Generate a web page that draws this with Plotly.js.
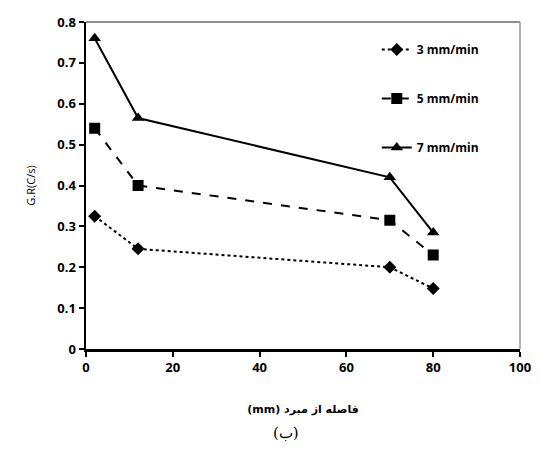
<!DOCTYPE html>
<html><head><meta charset="utf-8">
<script src="https://cdn.plot.ly/plotly-3.0.1.min.js"></script>
<style>html,body{margin:0;padding:0;background:#fff}#chart{width:538px;height:457px}</style>
</head><body><div id="chart"></div>
<script>
const distance = [2, 12, 70, 80];
const rate3 = [0.325, 0.245, 0.20, 0.148];
const rate5 = [0.54, 0.40, 0.315, 0.23];
const rate7 = [0.76, 0.565, 0.42, 0.285];
const seriesNames = ['3 mm/min', '5 mm/min', '7 mm/min'];
const xTicks = [0, 20, 40, 60, 80, 100];
const yTicks = [0, 0.1, 0.2, 0.3, 0.4, 0.5, 0.6, 0.7, 0.8];

const traces = [
  {x: distance, y: rate3, name: seriesNames[0], mode: 'lines+markers', legendgroup: 'a',
   line: {color: '#000', width: 2, dash: 'dot'}, marker: {symbol: 'diamond', size: 10, color: '#000'}},
  {x: distance, y: rate5, name: seriesNames[1], mode: 'lines+markers', legendgroup: 'b',
   line: {color: '#000', width: 2, dash: 'dash'}, marker: {symbol: 'square', size: 11, color: '#000'}},
  {x: distance, y: rate7, name: seriesNames[2], mode: 'lines+markers', legendgroup: 'c',
   line: {color: '#000', width: 2, dash: 'solid'}, marker: {symbol: 'triangle-up', size: 11, color: '#000'}}
];

const tickFont = {family: 'Open Sans, Liberation Sans, sans-serif', size: 13, color: '#000', weight: 'bold'};

const layout = {
  width: 538, height: 457,
  margin: {l: 86, r: 18, t: 22, b: 108},
  paper_bgcolor: '#fff', plot_bgcolor: '#fff',
  showlegend: true,
  legend: {x: 0.67, y: 0.96, xanchor: 'left', yanchor: 'top', bgcolor: 'rgba(0,0,0,0)',
           font: {family: 'Open Sans, Liberation Sans, sans-serif', size: 12, color: '#000', weight: 'bold'},
           tracegroupgap: 30, itemwidth: 30},
  xaxis: {range: [0, 100], tickvals: xTicks, ticktext: xTicks.map(String), showgrid: false, zeroline: false,
          showline: true, linecolor: '#000', linewidth: 2.5, ticks: 'outside', ticklen: 5, tickwidth: 2, tickcolor: '#000',
          tickfont: tickFont,
          title: {text: '(mm) فاصله از مبرد', font: {family: 'DejaVu Sans, sans-serif', size: 11, color: '#000', weight: 'bold'}, standoff: 30}},
  yaxis: {range: [0, 0.8], tickvals: yTicks, ticktext: yTicks.map(v => String(v)), showgrid: false, zeroline: false,
          showline: true, linecolor: '#000', linewidth: 2.5, ticks: 'outside', ticklen: 5, tickwidth: 2, tickcolor: '#000',
          tickfont: tickFont,
          title: {text: 'G.R(C/s)', font: {family: 'Open Sans, Liberation Sans, sans-serif', size: 11, color: '#000'}, standoff: 20}},
  shapes: [
    {type: 'line', xref: 'paper', yref: 'paper', x0: 0, x1: 1, y0: 1, y1: 1, line: {color: '#222', width: 1.2}},
    {type: 'line', xref: 'paper', yref: 'paper', x0: 1, x1: 1, y0: 0, y1: 1, line: {color: '#999', width: 1.5}}
  ],
  annotations: [
    {text: '(ب)', xref: 'paper', yref: 'paper', x: 0.46, y: -0.257, xanchor: 'center', yanchor: 'middle', showarrow: false,
     font: {family: 'DejaVu Serif, Liberation Serif, serif', size: 15, color: '#000'}}
  ]
};

Plotly.newPlot('chart', traces, layout, {staticPlot: true, displayModeBar: false});
</script></body></html>
